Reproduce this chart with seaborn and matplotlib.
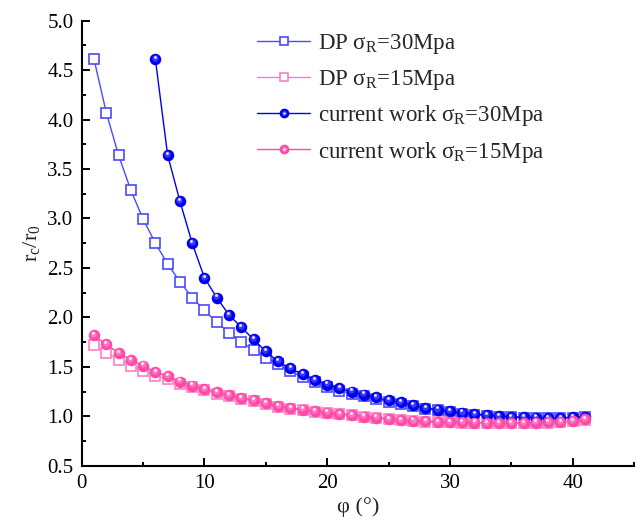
import numpy as np
import pandas as pd
import matplotlib
matplotlib.use("Agg")
import matplotlib.pyplot as plt
import matplotlib.transforms as mtransforms
from matplotlib.lines import Line2D
from matplotlib.legend_handler import HandlerTuple
from matplotlib.ticker import MultipleLocator
import seaborn as sns

# ---- data -------------------------------------------------------------
phi_dp = list(range(1, 42))
dp_30 = [4.61, 4.07, 3.64, 3.285, 2.995, 2.75, 2.54, 2.36, 2.20, 2.07,
         1.95, 1.845, 1.75, 1.67, 1.59, 1.525, 1.455, 1.395, 1.345, 1.30,
         1.26, 1.23, 1.20, 1.17, 1.145, 1.12, 1.10, 1.075, 1.06, 1.04,
         1.025, 1.015, 1.005, 0.995, 0.99, 0.985, 0.98, 0.98, 0.98, 0.985, 0.99]
dp_15 = [1.716, 1.642, 1.571, 1.513, 1.456, 1.412, 1.372, 1.33, 1.295, 1.262,
         1.23, 1.20, 1.176, 1.153, 1.125, 1.095, 1.078, 1.062, 1.046, 1.032,
         1.02, 1.01, 0.993, 0.983, 0.971, 0.961, 0.953, 0.946, 0.941, 0.939,
         0.936, 0.933, 0.93, 0.93, 0.93, 0.93, 0.933, 0.936, 0.94, 0.95, 0.965]

phi_cw30 = list(range(6, 42))
cw_30 = [4.61, 3.64, 3.175, 2.75, 2.40, 2.20, 2.025, 1.90, 1.777, 1.655,
         1.555, 1.483, 1.425, 1.365, 1.321, 1.281, 1.25, 1.219, 1.19, 1.16,
         1.14, 1.112, 1.084, 1.067, 1.05, 1.036, 1.024, 1.013, 1.003, 0.995,
         0.99, 0.986, 0.984, 0.984, 0.99, 0.995]

phi_cw15 = list(range(1, 42))
cw_15 = [1.817, 1.726, 1.642, 1.571, 1.513, 1.445, 1.405, 1.351, 1.311, 1.277,
         1.243, 1.21, 1.186, 1.163, 1.132, 1.101, 1.085, 1.068, 1.051, 1.037,
         1.024, 1.014, 0.997, 0.987, 0.974, 0.964, 0.956, 0.949, 0.943, 0.943,
         0.939, 0.936, 0.933, 0.933, 0.933, 0.933, 0.936, 0.939, 0.943, 0.953, 0.970]

x_ticks = [0, 10, 20, 30, 40]
y_ticks = [0.5, 1.0, 1.5, 2.0, 2.5, 3.0, 3.5, 4.0, 4.5, 5.0]

# ---- style ------------------------------------------------------------
sns.set_theme(style="ticks")
plt.rcParams["font.family"] = ["Liberation Serif", "DejaVu Serif"]
plt.rcParams["mathtext.fontset"] = "custom"
plt.rcParams["mathtext.rm"] = "Liberation Serif"
plt.rcParams["mathtext.it"] = "Liberation Serif:italic"

fig = plt.figure(figsize=(6.4, 5.26), dpi=100)
ax = fig.add_axes([0.1277, 0.1146, 0.8629, 0.8462])

blue_dp = "#4a4aff"
blue_cw = "#0000f0"
pink_dp = "#ff7ec4"
pink_cw = "#ff4aa8"

BALL = 8.3
SQUARE = 6.6


def ball_shading(x, y, core, z):
    """Shaded sphere look: softer core and a small white glint near the top."""
    off1 = mtransforms.ScaledTranslation(-0.4 / 72, 0.8 / 72, fig.dpi_scale_trans)
    off2 = mtransforms.ScaledTranslation(-0.6 / 72, 1.6 / 72, fig.dpi_scale_trans)
    ax.plot(x, y, linestyle="none", marker="o", markersize=4.6,
            markerfacecolor=core, markeredgewidth=0, alpha=0.45,
            transform=ax.transData + off1, zorder=z)
    ax.plot(x, y, linestyle="none", marker="o", markersize=2.0,
            markerfacecolor="white", markeredgewidth=0, alpha=0.95,
            transform=ax.transData + off2, zorder=z)


# DP, sigma_R = 30 MPa
sns.lineplot(x=phi_dp, y=dp_30, ax=ax, color=blue_dp, linewidth=1.0,
             marker="s", markersize=SQUARE, markerfacecolor="white",
             markeredgecolor=blue_dp, markeredgewidth=1.2, zorder=3)
# DP, sigma_R = 15 MPa
sns.lineplot(x=phi_dp, y=dp_15, ax=ax, color=pink_dp, linewidth=1.0,
             marker="s", markersize=SQUARE, markerfacecolor="white",
             markeredgecolor=pink_dp, markeredgewidth=1.2, zorder=3)
# current work, sigma_R = 30 MPa
sns.lineplot(x=phi_cw30, y=cw_30, ax=ax, color=blue_cw, linewidth=1.0,
             marker="o", markersize=BALL, markerfacecolor=blue_cw,
             markeredgewidth=0, zorder=5)
ball_shading(phi_cw30, cw_30, "#8080ff", 6)
# current work, sigma_R = 15 MPa
sns.lineplot(x=phi_cw15, y=cw_15, ax=ax, color=pink_cw, linewidth=1.0,
             marker="o", markersize=BALL, markerfacecolor=pink_cw,
             markeredgewidth=0, zorder=7)
ball_shading(phi_cw15, cw_15, "#ffb0dc", 8)

# ---- axes -------------------------------------------------------------
ax.set_xlim(0, 45)
ax.set_ylim(0.5, 5.0)
ax.set_xticks(x_ticks)
ax.set_yticks(y_ticks)
ax.set_yticklabels([f"{v:.1f}" for v in y_ticks])
ax.xaxis.set_minor_locator(MultipleLocator(5))
ax.yaxis.set_minor_locator(MultipleLocator(0.25))
ax.tick_params(which="both", direction="in", width=1.4, labelsize=15,
               color="black", labelcolor="black")
ax.tick_params(which="major", length=5.5, pad=6)
ax.tick_params(which="minor", length=3.2)
sns.despine(ax=ax)
for side in ("left", "bottom"):
    ax.spines[side].set_linewidth(1.5)
    ax.spines[side].set_color("black")

ax.set_xlabel("φ (°)", fontsize=16, labelpad=3)
ax.set_ylabel(r"r$_\mathrm{c}$/r$_\mathrm{0}$", fontsize=16, labelpad=4)

# ---- legend -----------------------------------------------------------
def sq(c):
    return Line2D([], [], color=c, linewidth=1.0, marker="s", markersize=6.0,
                  markerfacecolor="white", markeredgecolor=c, markeredgewidth=1.2)


def ball(c, core):
    return (Line2D([], [], color=c, linewidth=1.0, marker="o", markersize=7,
                   markerfacecolor=c, markeredgewidth=0),
            Line2D([], [], linestyle="none", marker="o", markersize=3.5,
                   markerfacecolor=core, markeredgewidth=0, alpha=0.5),
            Line2D([], [], linestyle="none", marker="o", markersize=1.6,
                   markerfacecolor="white", markeredgewidth=0))


handles = [sq(blue_dp), sq(pink_dp), ball(blue_cw, "#8080ff"), ball(pink_cw, "#ffb0dc")]
labels = [r"DP σ$_\mathrm{R}$=30Mpa", r"DP σ$_\mathrm{R}$=15Mpa",
          r"current work σ$_\mathrm{R}$=30Mpa", r"current work σ$_\mathrm{R}$=15Mpa"]
ax.legend(handles, labels, loc="upper left", bbox_to_anchor=(0.293, 1.005),
          frameon=False, fontsize=16.5, handlelength=2.3, handletextpad=0.35,
          labelspacing=0.5, borderaxespad=0.2,
          handler_map={tuple: HandlerTuple(ndivide=1)})

fig.savefig("out.png", dpi=100)
